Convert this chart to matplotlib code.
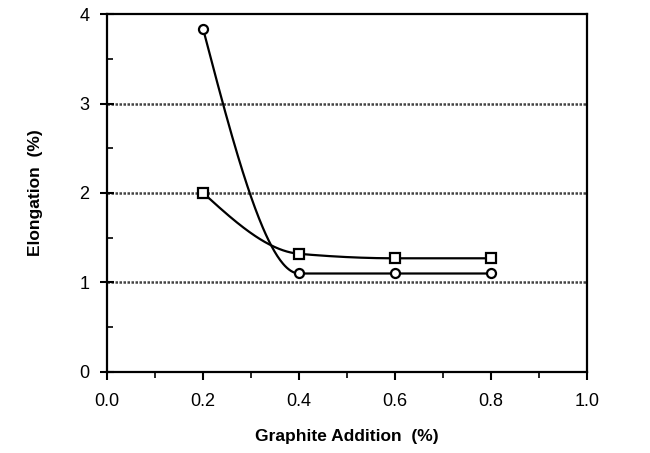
import numpy as np
import matplotlib
matplotlib.use("Agg")
import matplotlib.pyplot as plt
from matplotlib.ticker import MultipleLocator, FormatStrFormatter

# data
graphite = [0.2, 0.4, 0.6, 0.8]
elong_circle = [3.83, 1.10, 1.10, 1.10]
elong_square = [2.00, 1.32, 1.27, 1.27]


def pchip(x, y, xs):  # monotone cubic so the line is smooth like the original
    x = np.asarray(x, float)
    y = np.asarray(y, float)
    h = np.diff(x)
    d = np.diff(y) / h
    m = np.zeros_like(y)
    for k in range(1, len(x) - 1):
        if d[k - 1] * d[k] > 0:
            w1 = 2 * h[k] + h[k - 1]
            w2 = h[k] + 2 * h[k - 1]
            m[k] = (w1 + w2) / (w1 / d[k - 1] + w2 / d[k])
    m[0] = d[0] * 1.5 - m[1] * 0.5 if d[0] * (d[0] * 1.5 - m[1] * 0.5) > 0 else 0
    m[-1] = 0
    out = np.empty_like(xs)
    for i, xv in enumerate(xs):
        k = min(np.searchsorted(x, xv) - 1, len(x) - 2)
        k = max(k, 0)
        t = (xv - x[k]) / h[k]
        h00 = 2 * t**3 - 3 * t**2 + 1
        h10 = t**3 - 2 * t**2 + t
        h01 = -2 * t**3 + 3 * t**2
        h11 = t**3 - t**2
        out[i] = h00 * y[k] + h10 * h[k] * m[k] + h01 * y[k + 1] + h11 * h[k] * m[k + 1]
    return out


plt.rcParams['font.family'] = ['Liberation Sans', 'DejaVu Sans']

fig = plt.figure(figsize=(6.5, 4.53), dpi=100)
ax = fig.add_axes([0.165, 0.179, 0.738, 0.79])

xs = np.linspace(0.2, 0.8, 300)
ax.plot(xs, pchip(graphite, elong_circle, xs), color='black', lw=1.6, zorder=3)
ax.plot(xs, pchip(graphite, elong_square, xs), color='black', lw=1.6, zorder=3)
ax.plot(graphite, elong_circle, 'o', ms=6.5, mfc='white', mec='black', mew=1.6, zorder=4)
ax.plot(graphite, elong_square, 's', ms=6.5, mfc='white', mec='black', mew=1.6, zorder=4)

for yv in [1, 2, 3]:
    ax.axhline(yv, color='#444444', lw=1.8, ls=(0, (1, 0.6)), zorder=1)

ax.set_xlim(0, 1.0)
ax.set_ylim(0, 4)
ax.xaxis.set_major_locator(MultipleLocator(0.2))
ax.xaxis.set_minor_locator(MultipleLocator(0.1))
ax.xaxis.set_major_formatter(FormatStrFormatter('%.1f'))
ax.yaxis.set_major_locator(MultipleLocator(1))
ax.yaxis.set_minor_locator(MultipleLocator(0.5))
ax.tick_params(axis='x', which='major', direction='out', length=6, width=1.5, labelsize=13, pad=9)
ax.tick_params(axis='x', which='minor', direction='out', length=4, width=1.2)
ax.tick_params(axis='y', which='major', direction='inout', length=10, width=1.5, labelsize=13, pad=8)
ax.tick_params(axis='y', which='minor', direction='in', length=4, width=1.2)

for s in ['left', 'bottom', 'right', 'top']:
    ax.spines[s].set_linewidth(1.6)

ax.set_xlabel('Graphite Addition  (%)', fontsize=12.5, fontweight='bold', labelpad=14)
ax.set_ylabel('Elongation  (%)', fontsize=12.5, fontweight='bold', labelpad=26)

fig.savefig('out.png', dpi=100)
